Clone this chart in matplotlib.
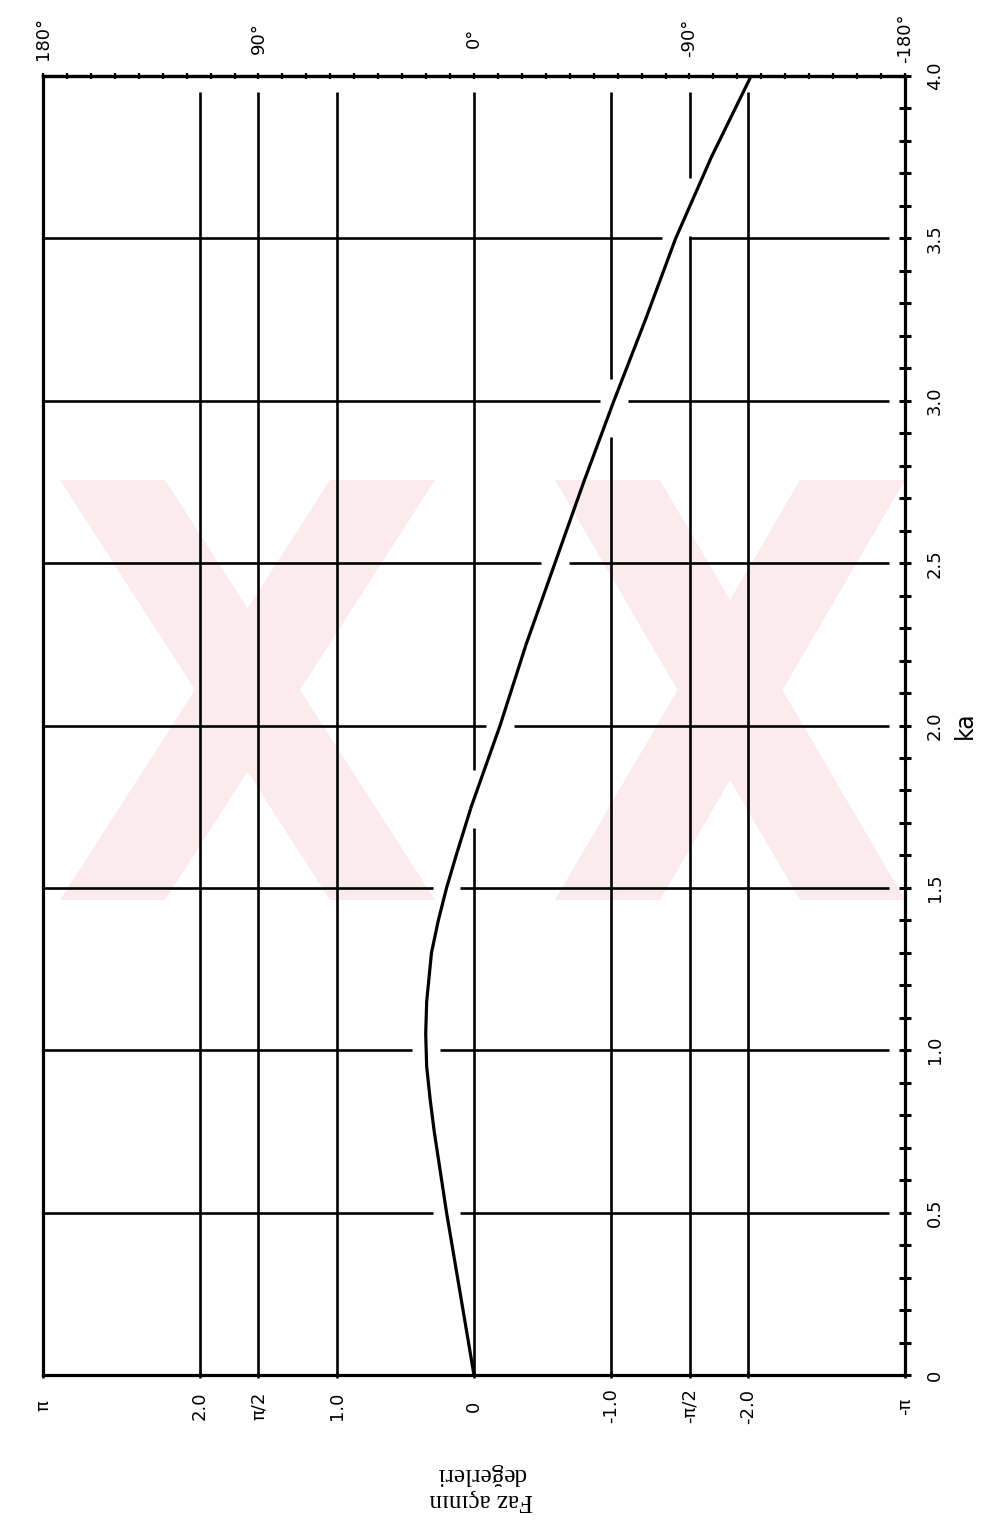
import numpy as np
import matplotlib
matplotlib.use('Agg')
import matplotlib.pyplot as plt
import matplotlib.transforms as mtrans
from matplotlib.patches import Polygon

# curve: ka vs phase (rad)
ka = [0.0, 0.25, 0.5, 0.75, 0.85, 0.95, 1.05, 1.15, 1.3, 1.4, 1.5, 1.6, 1.75, 2.0,
      2.25, 2.5, 2.75, 3.0, 3.25, 3.5, 3.75, 4.0]
phase = [0.0, 0.10, 0.20, 0.29, 0.32, 0.345, 0.352, 0.345, 0.31, 0.26, 0.20, 0.13, 0.02, -0.19,
         -0.38, -0.59, -0.80, -1.02, -1.25, -1.47, -1.73, -2.02]

phase_grid = [2.0, np.pi / 2, 1.0, 0.0, -1.0, -np.pi / 2, -2.0]
phase_ticks = [np.pi, 2.0, np.pi / 2, 1.0, 0.0, -1.0, -np.pi / 2, -2.0, -np.pi]
phase_labels = ['π', '2.0', 'π/2', '1.0', '0', '-1.0', '-π/2', '-2.0', '-π']
deg_ticks = [180, 90, 0, -90, -180]
deg_labels = ['180°', '90°', '0°', '-90°', '-180°']
ka_grid = [0.5, 1.0, 1.5, 2.0, 2.5, 3.0, 3.5]
ka_ticks = [0.0, 0.5, 1.0, 1.5, 2.0, 2.5, 3.0, 3.5, 4.0]
ka_labels = ['0', '0.5', '1.0', '1.5', '2.0', '2.5', '3.0', '3.5', '4.0']

W, H = 982, 1523
fig = plt.figure(figsize=(W / 100, H / 100), dpi=100)
L, R, T, B = 43, 905, 76, 1375
ax = fig.add_axes([L / W, 1 - B / H, (R - L) / W, (B - T) / H])
ax.set_xlim(np.pi, -np.pi)
ax.set_ylim(0, 4)

for s in ax.spines.values():
    s.set_linewidth(2.3)

ka_a = np.array(ka)
ph_a = np.array(phase)
grid_top = 3.95


def segments(lo, hi, cuts, half):
    # split [lo, hi] leaving a hole of +-half around every cut
    pts = [lo]
    for c in sorted(cuts):
        pts += [c - half, c + half]
    pts.append(hi)
    return [(pts[i], pts[i + 1]) for i in range(0, len(pts), 2) if pts[i + 1] > pts[i]]


# vertical grid lines (constant phase), open where the curve crosses
for p in phase_grid:
    d = ph_a - p
    cuts = []
    for i in range(len(d) - 1):
        if d[i] * d[i + 1] < 0:
            c = ka_a[i] + (ka_a[i + 1] - ka_a[i]) * d[i] / (d[i] - d[i + 1])
            if c < grid_top - 0.1:
                cuts.append(c)
    for a, b in segments(0, grid_top, cuts, 0.09):
        ax.plot([p, p], [a, b], color='black', lw=1.9, zorder=2, solid_capstyle='butt')

# horizontal grid lines (constant ka)
for k in ka_grid:
    c = np.interp(k, ka_a, ph_a)
    for a, b in segments(-np.pi + 0.12, np.pi, [c], 0.1):
        ax.plot([a, b], [k, k], color='black', lw=1.9, zorder=2, solid_capstyle='butt')

# pink watermark of the scan
def px(pts):
    return [(x / W, 1 - y / H) for x, y in pts]

bands = [
    [(60, 480), (165, 480), (435, 900), (330, 900)],
    [(330, 480), (435, 480), (165, 900), (60, 900)],
    [(555, 480), (660, 480), (905, 900), (800, 900)],
    [(800, 480), (905, 480), (660, 900), (555, 900)],
]
for b in bands:
    ax.add_patch(Polygon(px(b), closed=True, transform=fig.transFigure, clip_on=False,
                         facecolor='#fcebee', edgecolor='none', zorder=0.5))

ax.plot(phase, ka, color='black', lw=2.3, zorder=4)

# ticks: bottom at labels, right every 0.1, top every 10 degrees
ax.set_xticks(phase_ticks)
ax.set_xticklabels([])
ax.tick_params(axis='x', direction='inout', length=5, width=1.8)
ax.yaxis.tick_right()
ax.set_yticks(np.arange(0, 4.01, 0.1))
ax.set_yticklabels([])
ax.tick_params(axis='y', direction='inout', length=8, width=2.2)
top = ax.secondary_xaxis('top')
top.set_xticks(np.deg2rad(np.arange(-180, 181, 10)))
top.set_xticklabels([])
top.tick_params(direction='inout', length=5, width=1.6)
top.spines['top'].set_linewidth(2.3)

fs = 13
bx = mtrans.blended_transform_factory(ax.transData, ax.transAxes)
for p, lab in zip(phase_ticks, phase_labels):
    ax.text(p, 0, lab, transform=mtrans.offset_copy(bx, fig=fig, y=-31, units='dots'),
            rotation=90, ha='center', va='center', fontsize=fs)
for d, lab in zip(deg_ticks, deg_labels):
    ax.text(np.deg2rad(d), 1, lab, transform=mtrans.offset_copy(bx, fig=fig, y=38, units='dots'),
            rotation=90, ha='center', va='center', fontsize=fs)
by = mtrans.blended_transform_factory(ax.transAxes, ax.transData)
for k, lab in zip(ka_ticks, ka_labels):
    ax.text(1, k, lab, transform=mtrans.offset_copy(by, fig=fig, x=30, units='dots'),
            rotation=90, ha='center', va='center', fontsize=fs)
ax.text(1, 2.0, 'ka', transform=mtrans.offset_copy(by, fig=fig, x=60, units='dots'),
        rotation=90, ha='center', va='center', fontsize=17)

fig.text(481 / W, 1 - 1487 / H, 'Faz açının\ndeğerleri', rotation=180, ha='center', va='center',
         fontsize=18, family='Liberation Serif', linespacing=1.25)

fig.savefig('out.png', dpi=100)
